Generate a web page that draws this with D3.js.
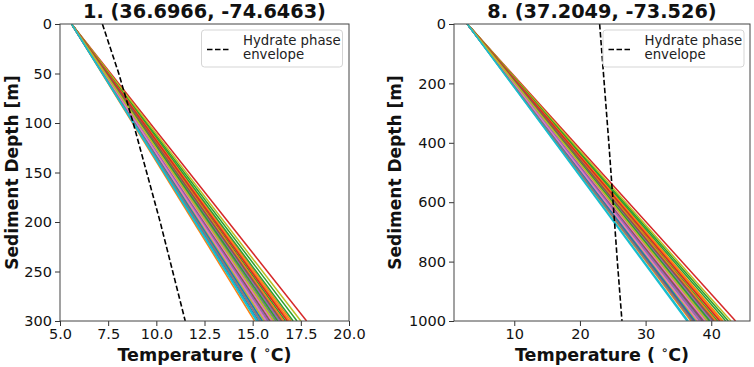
<!DOCTYPE html>
<html><head><meta charset="utf-8">
<script src="https://cdn.jsdelivr.net/npm/d3@7"></script>
<style>body{margin:0;background:#fff;} svg{display:block;font-family:"DejaVu Sans",sans-serif;}</style>
</head><body>
<svg id="c" width="754" height="367"></svg>
<script>
// ---- data ----
const titles = ["1. (36.6966, -74.6463)", "8. (37.2049, -73.526)"];
const maxDepth = [300, 1000];
const surfaceTemp = [5.6, 2.85];
// bottom temperatures of each profile (drawing order)
const bottomTempA = [16.2,17.0,17.3,17.8,16.6,16.4,16.9,16.5,17.5,16.1,15.9,15.1,16.7,16.0,15.6,15.8,16.3,15.7,16.8,15.5,15.3,16.6,17.1,15.4,16.4,15.9,16.0,16.2,15.6,15.2,15.5,16.9,16.3,16.8,15.8,16.5,15.7,15.4,16.1,15.25];
const bottomTempB = [39.6,41.8,42.6,43.7,40.8,40.2,41.4,40.5,43.0,39.3,38.8,36.9,41.0,39.0,37.9,38.5,39.9,38.2,41.2,37.6,37.2,40.7,42.2,37.4,40.1,38.6,39.1,39.5,37.8,36.5,37.5,41.6,39.8,41.3,38.4,40.4,38.0,37.1,39.4,36.3];
// hydrate phase envelope
const envDepthA = [0, 50, 100, 150, 200, 250, 300];
const envTempA  = [7.2, 8.05, 8.8, 9.5, 10.2, 10.85, 11.5];
const envDepthB = [0, 200, 400, 600, 800, 1000];
const envTempB  = [23.0, 23.7, 24.4, 25.05, 25.7, 26.4];
const xTicksA = [5.0, 7.5, 10.0, 12.5, 15.0, 17.5, 20.0];
const yTicksA = [0, 50, 100, 150, 200, 250, 300];
const xTicksB = [10, 20, 30, 40];
const yTicksB = [0, 200, 400, 600, 800, 1000];
const xDomains = [[5, 20], [0.82, 45.9]];
const legendLabel = ["Hydrate phase", "envelope"];

const svg = d3.select("#c");
const colors = ["#1f77b4","#ff7f0e","#2ca02c","#d62728","#9467bd","#8c564b","#e377c2","#7f7f7f","#bcbd22","#17becf"];

const panels = [
  {left:60, right:349, bottoms:bottomTempA, envD:envDepthA, envT:envTempA, xt:xTicksA, yt:yTicksA, xfmt:d3.format(".1f"), ylabX:12, legX:201.5},
  {left:454, right:750, bottoms:bottomTempB, envD:envDepthB, envT:envTempB, xt:xTicksB, yt:yTicksB, xfmt:d3.format("d"), ylabX:395, legX:603}
];
const plotTop = 24, plotBot = 321;

panels.forEach((p, i) => {
  const x = d3.scaleLinear().domain(xDomains[i]).range([p.left, p.right]);
  const y = d3.scaleLinear().domain([0, maxDepth[i]]).range([plotTop, plotBot]);
  const g = svg.append("g");
  const clipId = "clip" + i;
  svg.append("clipPath").attr("id", clipId).append("rect")
    .attr("x", p.left).attr("y", plotTop).attr("width", p.right - p.left).attr("height", plotBot - plotTop);
  const plot = g.append("g").attr("clip-path", `url(#${clipId})`);
  const line = d3.line().x(d => x(d[0])).y(d => y(d[1]));
  p.bottoms.forEach((bt, k) => {
    plot.append("path").attr("d", line([[surfaceTemp[i], 0], [bt, maxDepth[i]]]))
      .attr("fill", "none").attr("stroke", colors[k % 10]).attr("stroke-width", 1.5);
  });
  plot.append("path").attr("d", line(p.envD.map((d, k) => [p.envT[k], d])))
    .attr("fill", "none").attr("stroke", "#000").attr("stroke-width", 1.6)
    .attr("stroke-dasharray", "5.5,2.5");

  // axes
  const xa = g.append("g").attr("transform", `translate(0,${plotBot})`)
    .call(d3.axisBottom(x).tickValues(p.xt).tickFormat(p.xfmt).tickSize(5).tickPadding(3));
  const ya = g.append("g").attr("transform", `translate(${p.left},0)`)
    .call(d3.axisLeft(y).tickValues(p.yt).tickFormat(d3.format("d")).tickSize(5).tickPadding(3));
  [xa, ya].forEach(a => {
    a.select(".domain").remove();
    a.selectAll("text").attr("font-size", 14.5).attr("fill", "#111").attr("font-family", "DejaVu Sans");
    a.selectAll("line").attr("stroke", "#333");
  });
  g.append("rect").attr("x", p.left).attr("y", plotTop).attr("width", p.right - p.left).attr("height", plotBot - plotTop)
    .attr("fill", "none").attr("stroke", "#444").attr("stroke-width", 1);

  // title
  g.append("text").attr("x", (p.left + p.right) / 2).attr("y", 18).attr("text-anchor", "middle")
    .attr("font-size", 19.3).attr("font-weight", "bold").attr("fill", "#111").text(titles[i]);
  // x label
  const xl = g.append("text").attr("x", (p.left + p.right) / 2).attr("y", 361).attr("text-anchor", "middle")
    .attr("font-size", 17.5).attr("font-weight", "bold").attr("fill", "#111");
  xl.append("tspan").text("Temperature ( ");
  xl.append("tspan").attr("font-size", 11.5).attr("dy", -7).text("\u2218");
  xl.append("tspan").attr("dy", 7).text("C)");
  // y label
  g.append("text").attr("transform", `translate(${p.ylabX + 6},${(plotTop + plotBot) / 2}) rotate(-90)`)
    .attr("text-anchor", "middle").attr("font-size", 17).attr("font-weight", "bold").attr("fill", "#111")
    .text("Sediment Depth [m]");

  // legend
  const lg = g.append("g").attr("transform", `translate(${p.legX},30)`);
  lg.append("rect").attr("width", 141).attr("height", 37).attr("rx", 3)
    .attr("fill", "#fff").attr("fill-opacity", 0.8).attr("stroke", "#d5d5d5");
  lg.append("line").attr("x1", 5.5).attr("x2", 29).attr("y1", 19.5).attr("y2", 19.5)
    .attr("stroke", "#000").attr("stroke-width", 1.6).attr("stroke-dasharray", "5.5,2.5");
  legendLabel.forEach((t, k) => {
    lg.append("text").attr("x", 41.5).attr("y", 15 + k * 14).attr("font-size", 13.3).attr("fill", "#222").text(t);
  });
});
</script>
</body></html>
